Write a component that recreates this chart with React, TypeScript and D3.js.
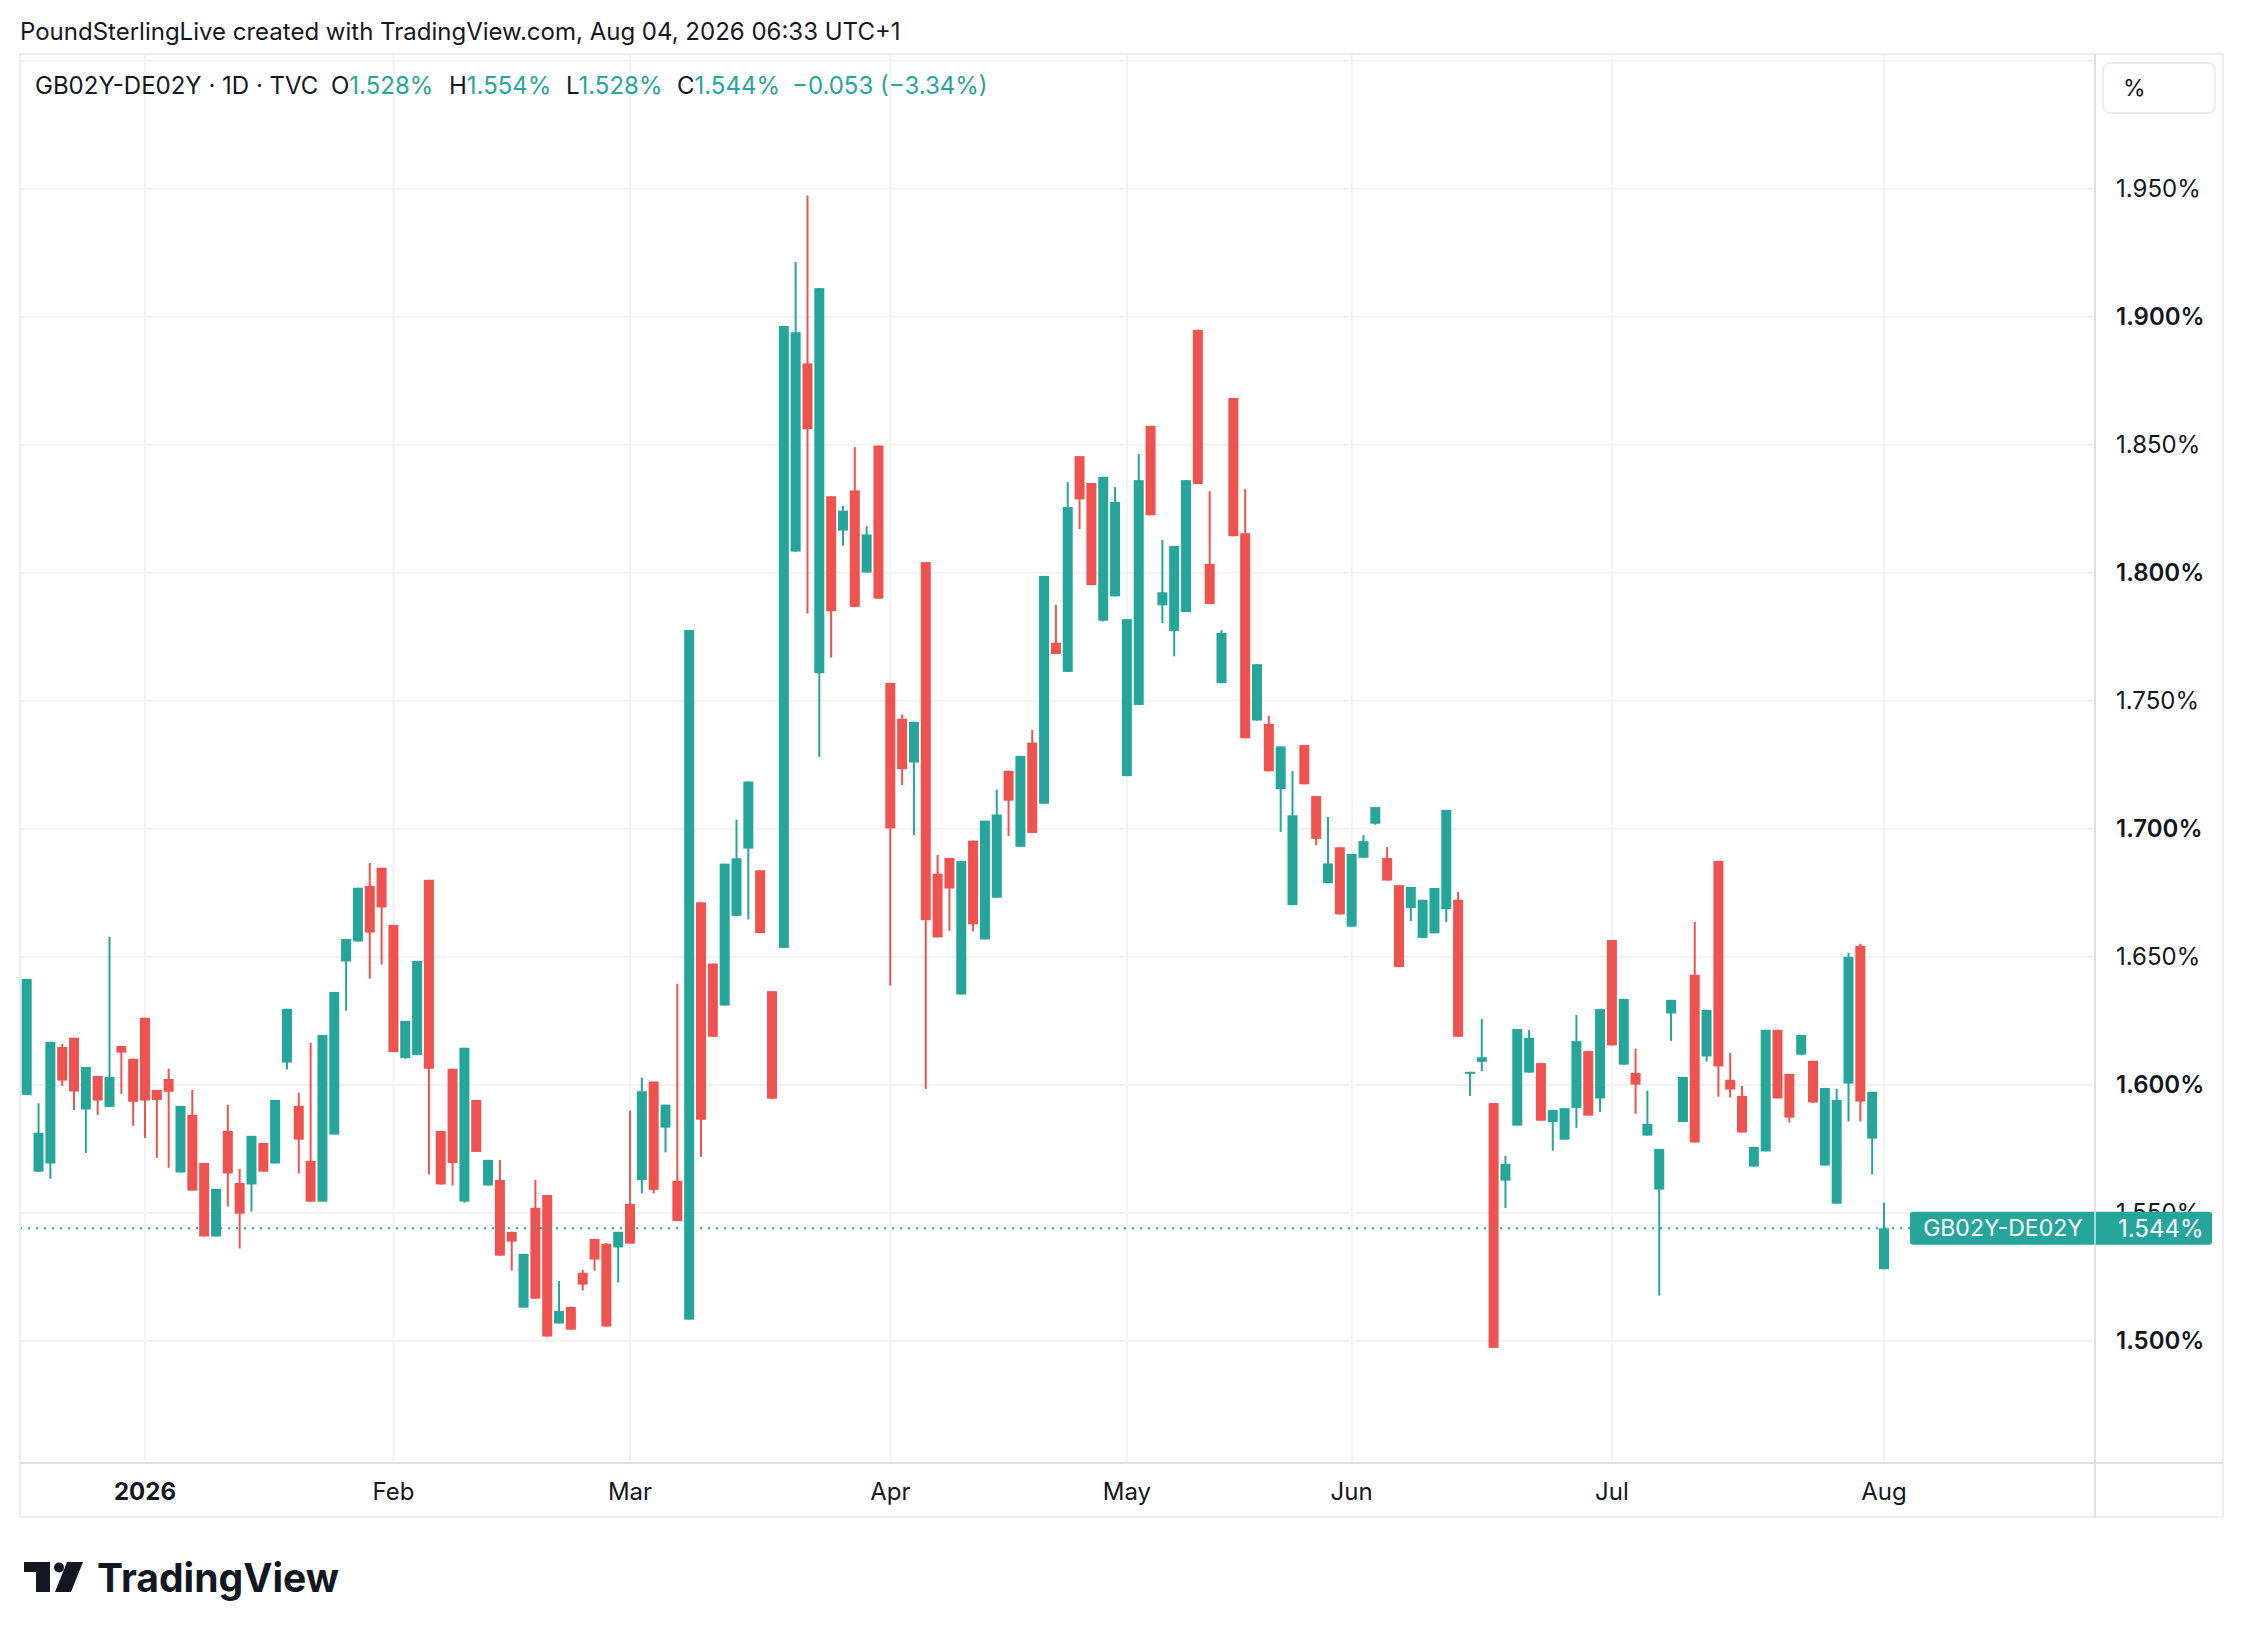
import React, { useEffect } from 'react';
import * as d3 from 'd3';

// GB02Y-DE02Y daily bars, 158 sessions (mid Dec 2025 .. Aug 3 2026)
const opens = [
  1.5961, 1.5661, 1.5693, 1.6148, 1.6184, 1.5904, 1.6035, 1.5914, 1.6152, 1.6102,
  1.6262, 1.598, 1.6023, 1.5658, 1.5883, 1.5695, 1.5408, 1.582, 1.5617, 1.5611,
  1.5773, 1.5693, 1.6087, 1.5918, 1.5703, 1.5544, 1.5806, 1.6482, 1.656, 1.6777,
  1.6848, 1.6625, 1.6105, 1.6117, 1.6801, 1.582, 1.6063, 1.5544, 1.5941, 1.5607,
  1.5629, 1.5426, 1.513, 1.552, 1.557, 1.5068, 1.5133, 1.5266, 1.5398, 1.5379,
  1.5365, 1.5535, 1.5628, 1.6013, 1.5833, 1.5625, 1.5083, 1.6713, 1.6474, 1.631,
  1.666, 1.6923, 1.6838, 1.6366, 1.6535, 1.8083, 1.8818, 1.7608, 1.8299, 1.8165,
  1.8322, 1.8001, 1.8497, 1.757, 1.743, 1.7259, 1.8042, 1.6825, 1.6886, 1.6353,
  1.6954, 1.6568, 1.6731, 1.7227, 1.693, 1.7337, 1.7098, 1.7727, 1.7613, 1.8456,
  1.8351, 1.7813, 1.7908, 1.7206, 1.7484, 1.8574, 1.7873, 1.7773, 1.7847, 1.8949,
  1.8035, 1.7569, 1.8683, 1.8155, 1.7423, 1.741, 1.7155, 1.6702, 1.7327, 1.7128,
  1.6788, 1.6928, 1.6618, 1.6887, 1.702, 1.6886, 1.678, 1.6691, 1.6574, 1.6592,
  1.6686, 1.6723, 1.6049, 1.609, 1.5929, 1.5626, 1.5841, 1.6048, 1.6085, 1.5855,
  1.5786, 1.591, 1.6132, 1.5947, 1.6566, 1.6079, 1.6047, 1.5802, 1.5591, 1.6279,
  1.5855, 1.643, 1.6111, 1.6875, 1.602, 1.5957, 1.5681, 1.574, 1.6215, 1.6043,
  1.6118, 1.6094, 1.5685, 1.5536, 1.6005, 1.6543, 1.579, 1.528,
];
const highs = [
  1.6414, 1.5928, 1.6168, 1.616, 1.6184, 1.607, 1.6035, 1.6578, 1.6152, 1.6102,
  1.6262, 1.598, 1.6063, 1.5918, 1.598, 1.5695, 1.5594, 1.5922, 1.5672, 1.5801,
  1.5773, 1.5941, 1.6297, 1.5969, 1.6164, 1.6195, 1.6363, 1.657, 1.677, 1.6867,
  1.6848, 1.6625, 1.625, 1.6484, 1.6801, 1.582, 1.6063, 1.6145, 1.5941, 1.5707,
  1.5707, 1.5426, 1.534, 1.5629, 1.557, 1.5234, 1.5133, 1.5277, 1.5398, 1.5383,
  1.5426, 1.5899, 1.6028, 1.6013, 1.5923, 1.6395, 1.7777, 1.6713, 1.6474, 1.6864,
  1.7036, 1.7185, 1.6838, 1.6366, 1.8964, 1.9214, 1.9474, 1.9112, 1.8299, 1.8261,
  1.8491, 1.8182, 1.8497, 1.757, 1.7446, 1.7418, 1.8042, 1.6898, 1.6886, 1.6874,
  1.6954, 1.7032, 1.7153, 1.7227, 1.7285, 1.7386, 1.7988, 1.7875, 1.8355, 1.8456,
  1.8351, 1.8375, 1.8335, 1.7819, 1.8464, 1.8574, 1.8128, 1.8105, 1.8362, 1.8949,
  1.8319, 1.7776, 1.8683, 1.8327, 1.7643, 1.7441, 1.7322, 1.7225, 1.7327, 1.7128,
  1.7046, 1.6928, 1.6902, 1.6975, 1.7085, 1.6929, 1.678, 1.6773, 1.6723, 1.6769,
  1.7074, 1.6753, 1.6051, 1.6257, 1.5929, 1.5723, 1.6218, 1.6214, 1.6085, 1.5902,
  1.5909, 1.6273, 1.6132, 1.6296, 1.6566, 1.6336, 1.6141, 1.5977, 1.575, 1.6332,
  1.6031, 1.6637, 1.6293, 1.6875, 1.6125, 1.5996, 1.5758, 1.6215, 1.6215, 1.6043,
  1.6195, 1.6094, 1.5988, 1.5984, 1.6516, 1.6551, 1.5973, 1.554,
];
const lows = [
  1.5961, 1.5661, 1.5633, 1.5996, 1.5902, 1.5734, 1.5883, 1.5914, 1.5965, 1.584,
  1.5793, 1.5715, 1.5676, 1.5658, 1.5587, 1.5408, 1.5408, 1.5525, 1.5361, 1.5505,
  1.5661, 1.5693, 1.606, 1.5654, 1.5544, 1.5544, 1.5806, 1.629, 1.656, 1.6415,
  1.647, 1.6128, 1.6102, 1.6117, 1.565, 1.5611, 1.5607, 1.554, 1.5738, 1.5607,
  1.5333, 1.5275, 1.513, 1.5165, 1.5017, 1.5068, 1.5044, 1.5197, 1.5275, 1.5056,
  1.5228, 1.538, 1.5576, 1.5576, 1.5736, 1.5468, 1.5083, 1.5719, 1.6188, 1.631,
  1.666, 1.6646, 1.6593, 1.5946, 1.6535, 1.8083, 1.7841, 1.7281, 1.7669, 1.8106,
  1.7867, 1.8001, 1.7899, 1.6388, 1.7171, 1.6976, 1.5984, 1.6576, 1.6602, 1.6353,
  1.66, 1.6568, 1.6731, 1.6972, 1.693, 1.6984, 1.7098, 1.7683, 1.7613, 1.8171,
  1.7952, 1.781, 1.7908, 1.7206, 1.7484, 1.8225, 1.7804, 1.7674, 1.7847, 1.8347,
  1.7878, 1.7569, 1.8143, 1.7354, 1.7423, 1.7225, 1.6987, 1.6702, 1.7174, 1.6936,
  1.6788, 1.6666, 1.6618, 1.6887, 1.7016, 1.6798, 1.646, 1.664, 1.6574, 1.6592,
  1.6636, 1.6188, 1.5957, 1.6053, 1.4973, 1.5519, 1.5841, 1.6048, 1.586, 1.5743,
  1.5786, 1.5832, 1.588, 1.5894, 1.6154, 1.6079, 1.5887, 1.5802, 1.5177, 1.6172,
  1.5855, 1.5775, 1.6091, 1.5954, 1.5951, 1.5814, 1.5681, 1.574, 1.5947, 1.5853,
  1.6118, 1.5931, 1.5685, 1.5536, 1.5857, 1.5857, 1.565, 1.528,
];
const closes = [
  1.6414, 1.5813, 1.6168, 1.6017, 1.5974, 1.607, 1.5939, 1.6031, 1.6126, 1.5934,
  1.5939, 1.5941, 1.5973, 1.5918, 1.5587, 1.5408, 1.5594, 1.5654, 1.5497, 1.5801,
  1.5661, 1.5941, 1.6297, 1.5786, 1.5544, 1.6195, 1.6363, 1.657, 1.677, 1.6595,
  1.6693, 1.6128, 1.625, 1.6484, 1.6063, 1.5611, 1.5695, 1.6145, 1.5738, 1.5707,
  1.5333, 1.5388, 1.534, 1.5165, 1.5017, 1.5117, 1.5044, 1.522, 1.5318, 1.5056,
  1.5426, 1.538, 1.5975, 1.559, 1.5923, 1.5468, 1.7777, 1.5864, 1.6188, 1.6864,
  1.6885, 1.7185, 1.6593, 1.5946, 1.8964, 1.894, 1.8561, 1.9112, 1.785, 1.8243,
  1.7867, 1.815, 1.7899, 1.7002, 1.7233, 1.7418, 1.6643, 1.6576, 1.6767, 1.6874,
  1.6627, 1.7032, 1.7056, 1.711, 1.7285, 1.6984, 1.7988, 1.7683, 1.8257, 1.8287,
  1.7952, 1.8375, 1.8277, 1.7819, 1.8362, 1.8225, 1.7924, 1.8105, 1.8362, 1.8347,
  1.7878, 1.7765, 1.8143, 1.7354, 1.7643, 1.7225, 1.7322, 1.7053, 1.7174, 1.6961,
  1.6865, 1.6666, 1.6902, 1.6952, 1.7085, 1.6798, 1.646, 1.6773, 1.6723, 1.6769,
  1.7074, 1.6188, 1.6051, 1.6108, 1.4973, 1.5691, 1.6218, 1.6184, 1.586, 1.5902,
  1.5909, 1.6171, 1.588, 1.6296, 1.6154, 1.6336, 1.6001, 1.5848, 1.575, 1.6332,
  1.6031, 1.5775, 1.6293, 1.6072, 1.5982, 1.5814, 1.5758, 1.6215, 1.5947, 1.5872,
  1.6195, 1.5931, 1.5988, 1.5941, 1.65, 1.5935, 1.5973, 1.544,
];

// first session of each month (bar index)
const monthLabels = ['2026', 'Feb', 'Mar', 'Apr', 'May', 'Jun', 'Jul', 'Aug'];
const monthIndex = [10, 31, 51, 73, 93, 112, 134, 157];

const priceTicks = [1.5, 1.55, 1.6, 1.65, 1.7, 1.75, 1.8, 1.85, 1.9, 1.95];
const gridPrices = [1.5, 1.55, 1.6, 1.65, 1.7, 1.75, 1.8, 1.85, 1.9, 1.95, 2.0];

const symbol = 'GB02Y-DE02Y';
const lastPrice = 1.544;

const W = 2242;
const H = 1638;
const paneL = 20;
const paneT = 54;
const paneR = 2095;
const paneB = 1463;
const outerR = 2223;
const outerB = 1517;

const UP = '#26a69a';
const DOWN = '#ef5350';
const TXT = '#131722';
const FONT = "Inter, 'Noto Sans', sans-serif";

const App: React.FC = () => {
  useEffect(() => {
    document.body.style.margin = '0';
    document.body.style.overflow = 'hidden';
  }, []);

  const x = d3.scaleLinear().domain([0, 157]).range([26.7, 1884]);
  const y = d3.scaleLinear().domain([1.5, 1.95]).range([1340.9, 188.8]);
  const fmt = d3.format('.3f');

  const bars = opens.map((o, i) => ({ o, h: highs[i], l: lows[i], c: closes[i], i }));
  const yLast = y(lastPrice);

  return (
    <svg width={W} height={H} viewBox={`0 0 ${W} ${H}`} style={{ display: 'block', background: '#fff' }} fontFamily={FONT}>
      <rect x={0} y={0} width={W} height={H} fill="#fff" />

      <text x={20} y={40} fontSize={24} fill={TXT}>
        PoundSterlingLive created with TradingView.com, Aug 04, 2026 06:33 UTC+1
      </text>

      {/* grid */}
      <g stroke="#f2f2f2" strokeWidth={2}>
        {gridPrices.map((p) => (
          <line key={p} x1={paneL} x2={paneR} y1={y(p)} y2={y(p)} />
        ))}
        {monthIndex.map((idx) => (
          <line key={idx} x1={x(idx)} x2={x(idx)} y1={paneT} y2={paneB} />
        ))}
      </g>

      {/* legend */}
      <text y={94} fontSize={24} fill={TXT}>
        <tspan x={35}>{`${symbol} · 1D · TVC`}</tspan>
        <tspan x={331}>O</tspan>
        <tspan fill={UP}>1.528%</tspan>
        <tspan x={449}>H</tspan>
        <tspan fill={UP}>1.554%</tspan>
        <tspan x={566}>L</tspan>
        <tspan fill={UP}>1.528%</tspan>
        <tspan x={677}>C</tspan>
        <tspan fill={UP}>1.544%</tspan>
        <tspan x={792} fill={UP}>−0.053 (−3.34%)</tspan>
      </text>

      {/* candles */}
      <g>
        {bars.map((b) => {
          const col = b.c >= b.o ? UP : DOWN;
          const cx = x(b.i);
          const top = y(Math.max(b.o, b.c));
          const bot = y(Math.min(b.o, b.c));
          return (
            <g key={b.i} fill={col}>
              <rect x={cx - 1} y={y(b.h)} width={2} height={Math.max(1, y(b.l) - y(b.h))} />
              <rect x={cx - 5} y={top} width={10} height={Math.max(2, bot - top)} />
            </g>
          );
        })}
      </g>

      {/* last price line */}
      <line x1={paneL} x2={1910} y1={yLast} y2={yLast} stroke={UP} strokeWidth={2} strokeDasharray="2,6" />

      {/* frame */}
      <g fill="none">
        <line x1={paneL} x2={outerR} y1={paneT} y2={paneT} stroke="#ececec" strokeWidth={2} />
        <line x1={paneL} x2={paneL} y1={paneT} y2={outerB} stroke="#ececec" strokeWidth={2} />
        <line x1={outerR} x2={outerR} y1={paneT} y2={outerB} stroke="#ececec" strokeWidth={2} />
        <line x1={paneL} x2={outerR} y1={outerB} y2={outerB} stroke="#ececec" strokeWidth={2} />
        <line x1={paneL} x2={outerR} y1={paneB} y2={paneB} stroke="#e0e0e0" strokeWidth={2} />
        <line x1={paneR} x2={paneR} y1={paneT} y2={outerB} stroke="#e0e0e0" strokeWidth={2} />
      </g>

      {/* price axis (1.550% sits partly under the last-price label, as in the source) */}
      <g fontSize={24} fill={TXT}>
        {priceTicks.map((p) => (
          <text
            key={p}
            x={2116}
            y={y(p)}
            dy="0.35em"
            fontWeight={Math.round(p * 100) % 10 === 0 ? 600 : 400}
          >
            {`${fmt(p)}%`}
          </text>
        ))}
      </g>

      {/* % button */}
      <rect x={2103} y={63} width={112} height={50} rx={7} fill="#fff" stroke="#ececec" strokeWidth={2} />
      <text x={2123} y={88} dy="0.35em" fontSize={23} fill={TXT}>%</text>

      {/* time axis */}
      <g fontSize={24} fill={TXT} textAnchor="middle">
        {monthLabels.map((m, k) => (
          <text key={m} x={x(monthIndex[k])} y={1500} fontWeight={k === 0 ? 700 : 400}>
            {m}
          </text>
        ))}
      </g>

      {/* last price label */}
      <rect x={1910} y={yLast - 16.5} width={302} height={33} rx={3} fill={UP} />
      <line x1={paneR} x2={paneR} y1={yLast - 16.5} y2={yLast + 16.5} stroke="#ffffff" strokeOpacity={0.6} strokeWidth={2} />
      <text x={2003} y={yLast} dy="0.35em" fontSize={23} fill="#fff" textAnchor="middle">
        {symbol}
      </text>
      <text x={2118} y={yLast} dy="0.35em" fontSize={24} fill="#fff">
        {`${fmt(lastPrice)}%`}
      </text>

      {/* TradingView logo */}
      <g fill={TXT}>
        <path d="M24 1562 H50 V1592 H36 V1572 H24 Z" />
        <circle cx={59} cy={1567.5} r={5} />
        <path d="M67 1562 H83 L71 1592 H55 Z" />
        <text x={97} y={1592} fontSize={40} fontWeight={700} textLength={242} lengthAdjust="spacingAndGlyphs">
          TradingView
        </text>
      </g>
    </svg>
  );
};

export default App;
